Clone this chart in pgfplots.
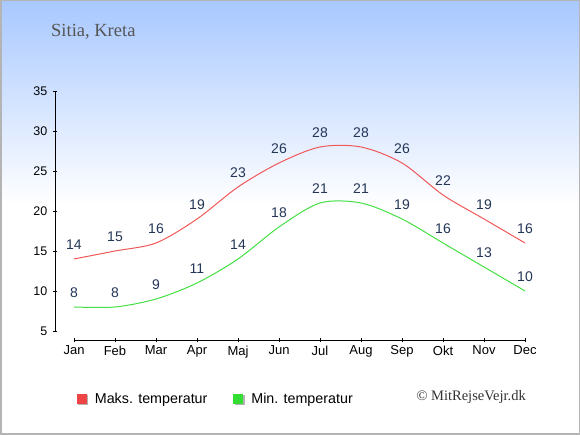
\documentclass[border=0pt]{standalone}
\usepackage{pgfplots}
\pgfplotsset{compat=1.18}
\usepackage{fontspec}
\setmainfont{Liberation Sans}
\newfontfamily\seriffont{Liberation Serif}
\definecolor{bgtop}{HTML}{A8C8FF}
\definecolor{maxline}{HTML}{F05858}
\definecolor{minline}{HTML}{44E044}
\definecolor{maxbox}{HTML}{EE4444}
\definecolor{minbox}{HTML}{33DD33}
\definecolor{labcol}{HTML}{233656}
\definecolor{titlecol}{HTML}{555555}
\definecolor{framecol}{HTML}{B4B4B4}
\begin{document}
\begin{tikzpicture}[x=1bp,y=1bp]
\path[use as bounding box] (0,0) rectangle (580,435);
\fill[white] (0,0) rectangle (580,435);
\shade[top color=bgtop, bottom color=white] (0,230) rectangle (580,435);
\draw[framecol, line width=1.5bp] (0.75,0.75) rectangle (579.25,434.25);
\node[anchor=base west, inner sep=0, text=titlecol, font=\seriffont\fontsize{18.5bp}{20bp}\selectfont] at (51,398) {Sitia, Kreta};
\node[anchor=base east, inner sep=0, text=black!80, font=\seriffont\fontsize{14.5bp}{16bp}\selectfont] at (526,34) {© MitRejseVejr.dk};
\begin{axis}[
  at={(55bp,95bp)}, anchor=south west,
  scale only axis, width=470bp, height=249bp,
  xmin=-0.4634, xmax=11, ymin=3.875, ymax=35,
  axis x line*=bottom, axis y line*=left,
  axis line style={draw=none},
  clip=false,
  xtick={0,...,11},
  xticklabels={Jan,Feb,Mar,Apr,Maj,Jun,Jul,Aug,Sep,Okt,Nov,Dec},
  ytick={5,10,...,35},
  tick align=center,
  major tick length=4.5bp,
  tick style={black, line width=0.9bp},
  /pgf/number format/assume math mode=true,
  xticklabel style={font=\fontsize{13bp}{15bp}\selectfont},
  yticklabel style={font=\fontsize{12.5bp}{15bp}\selectfont, xshift=-2bp},
  every node near coord/.append style={font=\fontsize{14bp}{16bp}\selectfont, text=labcol, anchor=center, yshift=14bp},
  legend columns=2,
  legend style={at={(axis description cs:0.04,-0.236)}, anchor=west, draw=none, fill=none,
    font=\fontsize{14.3bp}{16bp}\selectfont,
    /tikz/every odd column/.append style={column sep=5bp},
    /tikz/every even column/.append style={column sep=24bp}},
]
\addplot[maxline, line width=1bp, smooth, forget plot, nodes near coords] coordinates {
(0,14) (1,15) (2,16) (3,19) (4,23) (5,26) (6,28) (7,28) (8,26) (9,22) (10,19) (11,16)};
\addplot[minline, line width=1bp, smooth, forget plot, nodes near coords] coordinates {
(0,8) (1,8) (2,9) (3,11) (4,14) (5,18) (6,21) (7,21) (8,19) (9,16) (10,13) (11,10)};
\addlegendimage{legend image code/.code={
  \fill[black!30] (1.5bp,-5.5bp) rectangle (10.5bp,3.5bp);
  \fill[maxbox] (0bp,-4.5bp) rectangle (9bp,4.5bp);}}
\addlegendentry{Maks. temperatur}
\addlegendimage{legend image code/.code={
  \fill[black!30] (1.5bp,-5.5bp) rectangle (10.5bp,3.5bp);
  \fill[minbox] (0bp,-4.5bp) rectangle (9bp,4.5bp);}}
\addlegendentry{Min. temperatur}
\draw[black, line width=0.9bp] (axis cs:-0.4634,5) -- (axis cs:-0.4634,35);
\draw[black, line width=0.9bp] (axis cs:0,3.875) -- (axis cs:11,3.875);
\end{axis}
\end{tikzpicture}
\end{document}
